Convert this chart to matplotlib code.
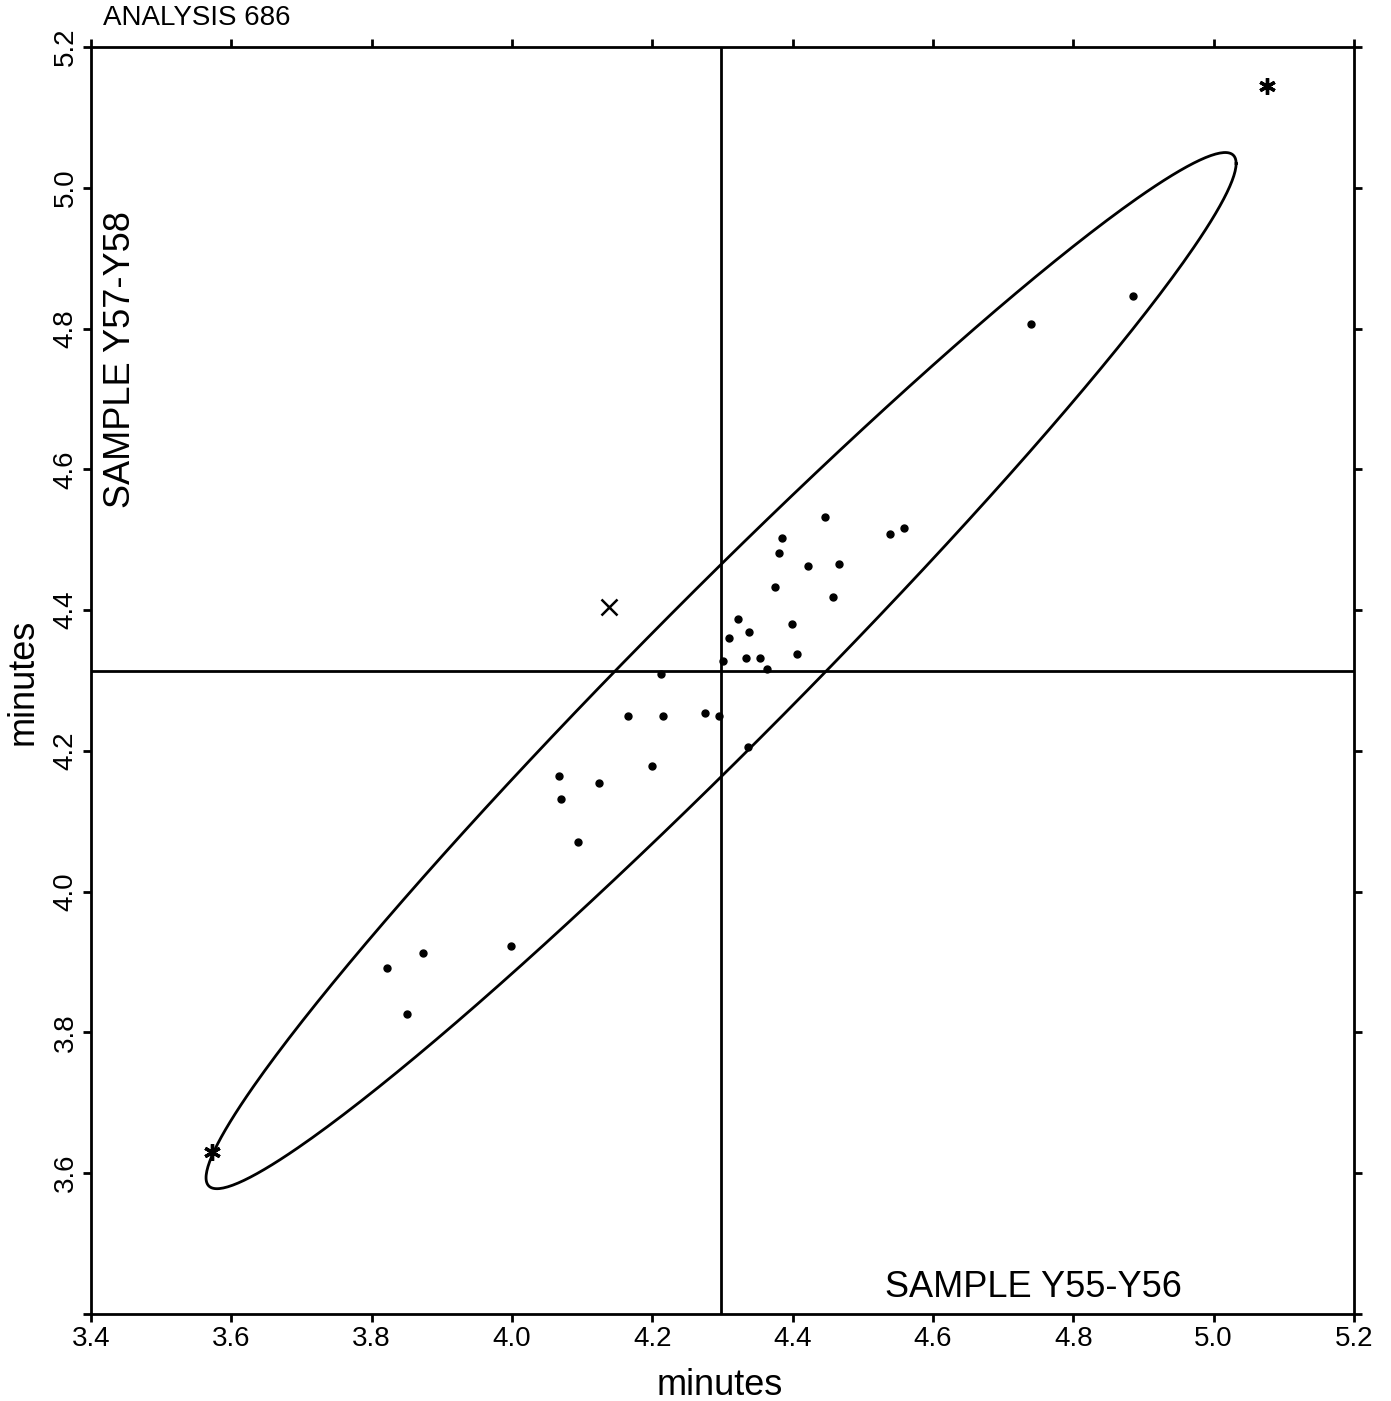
import numpy as np
import matplotlib
matplotlib.use("Agg")
import matplotlib.pyplot as plt

plt.rcParams['font.family'] = ['Liberation Sans', 'DejaVu Sans']

# sample points (x = Y55-Y56, y = Y57-Y58), minutes
dots_x = [4.740, 4.885, 4.446, 4.559, 4.539, 4.385, 4.381, 4.422, 4.466, 4.375,
          4.457, 4.322, 4.338, 4.309, 4.399, 4.406, 4.334, 4.353, 4.301, 4.363,
          4.212, 4.165, 4.215, 4.275, 4.295, 4.336, 4.200, 4.067, 4.124, 4.070,
          4.094, 3.999, 3.873, 3.822, 3.850]
dots_y = [4.806, 4.846, 4.532, 4.517, 4.508, 4.502, 4.481, 4.463, 4.465, 4.433,
          4.419, 4.387, 4.369, 4.360, 4.380, 4.338, 4.332, 4.332, 4.328, 4.316,
          4.309, 4.250, 4.250, 4.254, 4.250, 4.206, 4.179, 4.164, 4.154, 4.132,
          4.071, 3.923, 3.913, 3.892, 3.826]
star_x = [5.076, 3.572]
star_y = [5.145, 3.630]
cross_x = [4.138]
cross_y = [4.405]

mean_x = 4.298
mean_y = 4.314
ell_half_x = 0.734
ell_half_y = 0.736
ell_sin = 0.205   # sin of phase shift -> width of ellipse

ticks = [3.4, 3.6, 3.8, 4.0, 4.2, 4.4, 4.6, 4.8, 5.0, 5.2]
xtick_labels = ['3.4', '3.6', '3.8', '4.0', '4.2', '4.4', '4.6', '4.8', '5.0', '5.2']
ytick_labels = ['', '3.6', '3.8', '4.0', '4.2', '4.4', '4.6', '4.8', '5.0', '5.2']

fig = plt.figure(figsize=(13.91, 14.01), dpi=100)
ax = fig.add_axes([0.0654, 0.0621, 0.9080, 0.9044])

t = np.linspace(0, 2 * np.pi, 400)
phi = np.arcsin(ell_sin)
ax.plot(mean_x + ell_half_x * np.cos(t), mean_y + ell_half_y * np.cos(t + phi),
        color='black', lw=2.0)

ax.axvline(mean_x, color='black', lw=2.0)
ax.axhline(mean_y, color='black', lw=2.0)

ax.plot(dots_x, dots_y, 'o', color='black', ms=5, ls='none')
ax.plot(star_x, star_y, marker=(6, 2, 0), color='black', ms=12, mew=2.4, ls='none')
ax.plot(cross_x, cross_y, 'x', color='black', ms=11, mew=1.8, ls='none')

ax.set_xlim(3.4, 5.2)
ax.set_ylim(3.4, 5.2)
ax.set_xticks(ticks)
ax.set_xticklabels(xtick_labels)
ax.set_yticks(ticks)
ax.set_yticklabels(ytick_labels, rotation=90, va='center')
ax.tick_params(direction='out', length=6, width=2.0, labelsize=20, pad=3,
               top=True, right=True)
for sp in ax.spines.values():
    sp.set_linewidth(2.0)

ax.text(0.023, 0.753, 'SAMPLE Y57-Y58', transform=ax.transAxes, rotation=90,
        ha='center', va='center', fontsize=26)
ax.text(0.6287, 0.0137, 'SAMPLE Y55-Y56', transform=ax.transAxes,
        ha='left', va='baseline', fontsize=26)

fig.text(0.074, 0.987, 'ANALYSIS 686', ha='left', va='center', fontsize=20)
fig.text(0.5176, 0.0045, 'minutes', ha='center', va='baseline', fontsize=26)
fig.text(0.0237, 0.513, 'minutes', ha='center', va='baseline', fontsize=26,
         rotation=90, rotation_mode='anchor')

fig.savefig('out.png', dpi=100)
